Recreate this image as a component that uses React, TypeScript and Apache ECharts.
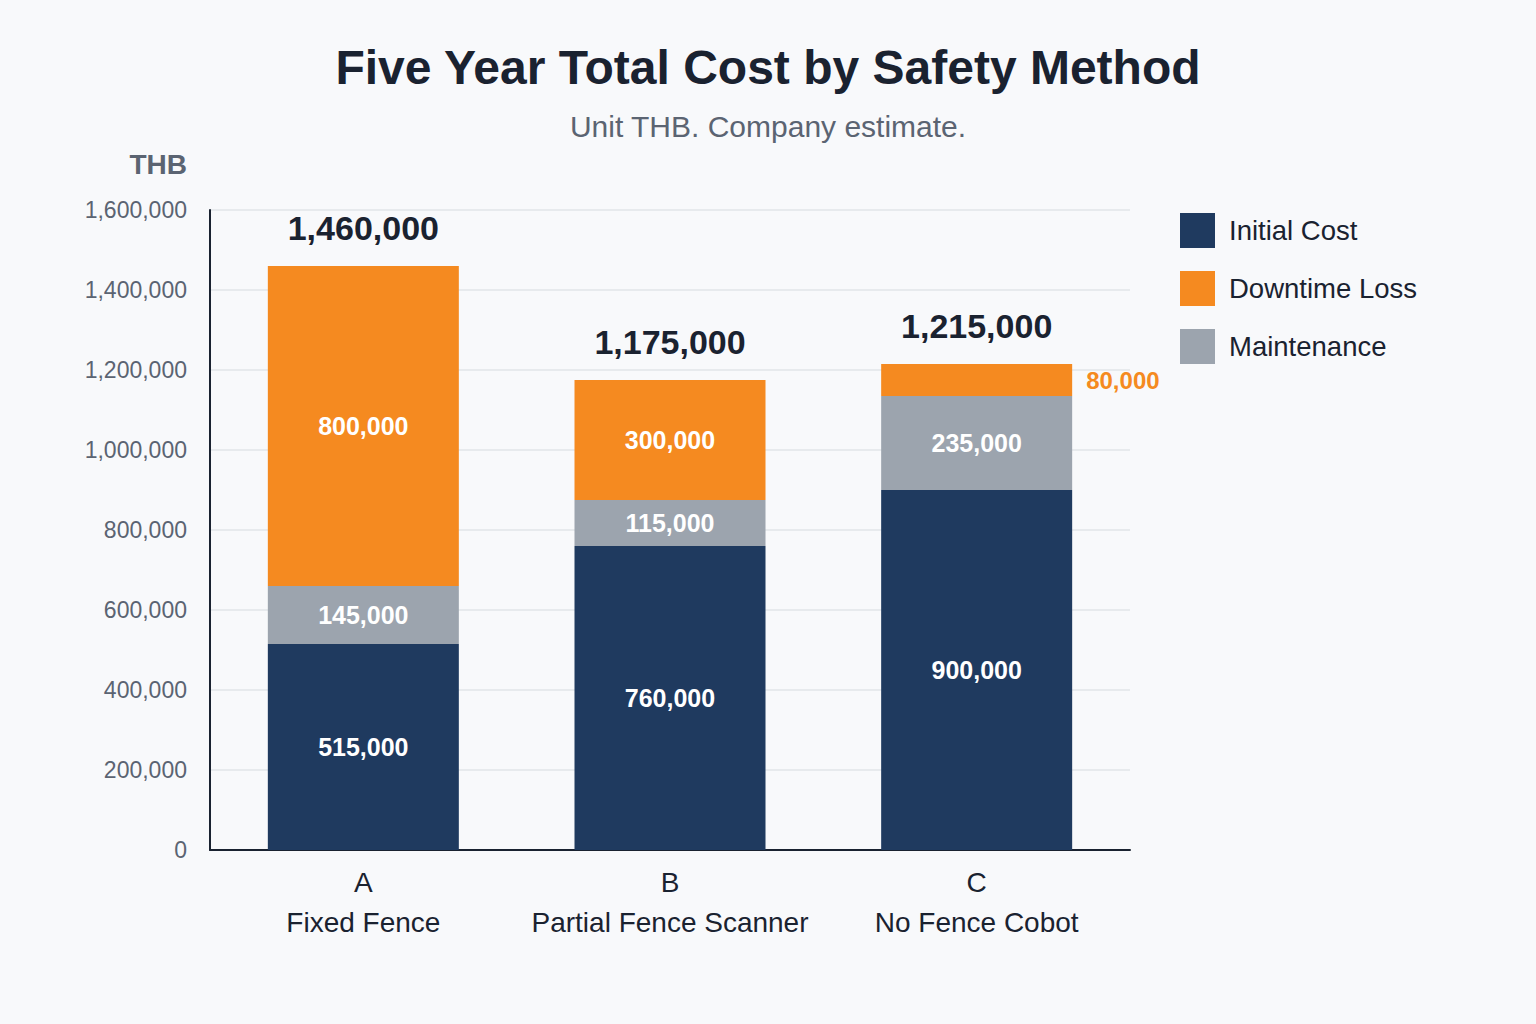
import React, { useEffect, useRef } from "react";
import * as echarts from "echarts";

const categories = ["A\nFixed Fence", "B\nPartial Fence Scanner", "C\nNo Fence Cobot"];
const initialCost = [515000, 760000, 900000];
const maintenance = [145000, 115000, 235000];
const downtimeLoss = [800000, 300000, 80000];
const yTicks = { min: 0, max: 1600000, interval: 200000 };

const FONT = "'Liberation Sans', Arial, Helvetica, sans-serif";
const NAVY = "#1f3a5f";
const ORANGE = "#f58a20";
const GRAY = "#9ca4ae";
const DARK = "#1a2230";
const MUTED = "#5b6472";

const fmt = (v: number) => v.toLocaleString("en-US");

export default function App() {
  const ref = useRef<HTMLDivElement>(null);
  useEffect(() => {
    document.body.style.margin = "0";
    if (!ref.current) return;
    const chart = echarts.init(ref.current, undefined, { renderer: "svg" });
    const totals = initialCost.map((v, i) => v + maintenance[i] + downtimeLoss[i]);
    const segLabel = {
      show: true,
      position: "inside",
      color: "#ffffff",
      fontFamily: FONT,
      fontWeight: "bold",
      fontSize: 25,
      formatter: (p: any) => fmt(p.value),
    };
    chart.setOption({
      animation: false,
      backgroundColor: "#f8f9fb",
      textStyle: { fontFamily: FONT },
      title: [
        {
          text: "Five Year Total Cost by Safety Method",
          left: "center",
          top: 38,
          textStyle: { fontFamily: FONT, fontSize: 48, fontWeight: "bold", color: DARK },
        },
        {
          text: "Unit THB. Company estimate.",
          left: "center",
          top: 106,
          textStyle: { fontFamily: FONT, fontSize: 30, fontWeight: "normal", color: MUTED },
        },
      ],
      graphic: [
        {
          type: "text",
          style: {
            text: "THB",
            x: 187,
            y: 164,
            align: "right",
            verticalAlign: "middle",
            font: `bold 28px ${FONT}`,
            fill: MUTED,
          },
        },
      ],
      legend: {
        data: ["Initial Cost", "Downtime Loss", "Maintenance"],
        orient: "vertical",
        left: 1180,
        top: 213,
        padding: 0,
        itemWidth: 35,
        itemHeight: 35,
        itemGap: 23,
        icon: "rect",
        textStyle: { fontFamily: FONT, fontSize: 27.5, color: DARK, padding: [0, 0, 2, 9] },
      },
      grid: { left: 210, right: 406, top: 210, bottom: 174, containLabel: false },
      xAxis: {
        type: "category",
        data: categories,
        axisTick: { show: false },
        axisLine: { show: true, lineStyle: { color: DARK, width: 2 } },
        axisLabel: {
          interval: 0,
          fontFamily: FONT,
          fontSize: 28,
          color: DARK,
          lineHeight: 40,
          margin: 12,
        },
      },
      yAxis: {
        type: "value",
        min: yTicks.min,
        max: yTicks.max,
        interval: yTicks.interval,
        axisLine: { show: true, lineStyle: { color: DARK, width: 2 } },
        axisTick: { show: false },
        splitLine: { lineStyle: { color: "#e2e4e8", width: 1.5 } },
        axisLabel: {
          fontFamily: FONT,
          fontSize: 23,
          color: MUTED,
          margin: 23,
          padding: [0, 0, 3, 0],
          formatter: (v: number) => fmt(v),
        },
      },
      series: [
        {
          name: "Initial Cost",
          type: "bar",
          stack: "total",
          barWidth: 191,
          itemStyle: { color: NAVY },
          label: segLabel,
          data: initialCost,
        },
        {
          name: "Maintenance",
          type: "bar",
          stack: "total",
          barWidth: 191,
          itemStyle: { color: GRAY },
          label: segLabel,
          data: maintenance,
        },
        {
          name: "Downtime Loss",
          type: "bar",
          stack: "total",
          barWidth: 191,
          itemStyle: { color: ORANGE },
          label: segLabel,
          data: downtimeLoss.map((v, i) =>
            i === 2
              ? { value: v, label: { position: "right", color: ORANGE, fontSize: 24, distance: 14 } }
              : v
          ),
        },
        {
          name: "Total",
          type: "bar",
          stack: "total",
          barWidth: 191,
          itemStyle: { color: "transparent" },
          label: {
            show: true,
            position: "top",
            distance: 21,
            color: DARK,
            fontFamily: FONT,
            fontWeight: "bold",
            fontSize: 34,
            formatter: (p: any) => fmt(totals[p.dataIndex]),
          },
          data: totals.map(() => 0),
        },
      ],
    });
    return () => chart.dispose();
  }, []);
  return <div ref={ref} style={{ width: 1536, height: 1024 }} />;
}
